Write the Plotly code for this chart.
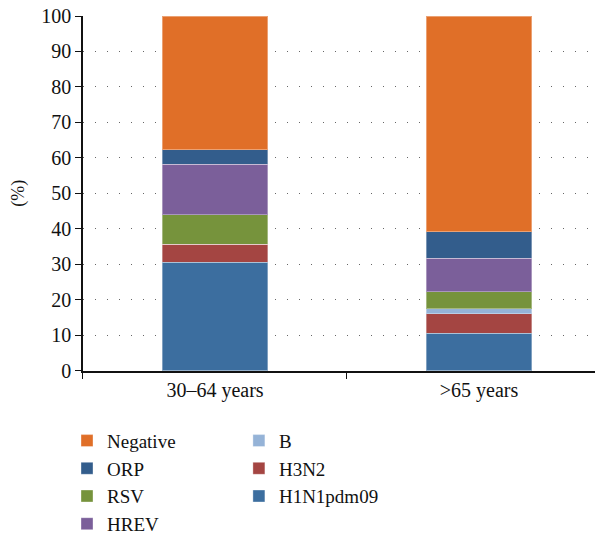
import plotly.graph_objects as go

age_groups = ["30–64 years", ">65 years"]

h1n1 = [30.5, 10.6]
h3n2 = [5.2, 5.5]
flu_b = [0.0, 1.3]
rsv = [8.2, 4.8]
hrev = [14.3, 9.5]
orp = [4.1, 7.5]
negative = [37.7, 60.8]

# bottom-up stack order; (name, values, colour, legend, rank)
series = [
    ("H1N1pdm09", h1n1, "#3C6E9F", "legend2", 7),
    ("H3N2", h3n2, "#A44542", "legend2", 6),
    ("B", flu_b, "#95B3D7", "legend2", 5),
    ("RSV", rsv, "#76933C", "legend", 3),
    ("HREV", hrev, "#7B5F9A", "legend", 4),
    ("ORP", orp, "#335D8C", "legend", 2),
    ("Negative", negative, "#E06F28", "legend", 1),
]

fig = go.Figure()
for name, vals, color, leg, rank in series:
    fig.add_trace(go.Bar(
        x=age_groups, y=vals, name=name,
        marker=dict(color=color, line=dict(color="rgba(255,255,255,0.35)", width=1)),
        legend=leg, legendrank=rank))

font = "Liberation Serif, Times New Roman, serif"
# page body adds an 8px offset; axes domains leave room for the two legends
leg_style = dict(xanchor="left", yanchor="top", y=0.2106, font=dict(size=19),
                 tracegroupgap=0, itemwidth=30, traceorder="normal")
fig.update_layout(
    barmode="stack",
    bargap=0.6,
    width=603, height=535,
    margin=dict(l=59, r=0, t=8, b=8),
    plot_bgcolor="white", paper_bgcolor="white",
    font=dict(family=font, size=20, color="#111"),
    legend=dict(x=0.0, **leg_style),
    legend2=dict(x=0.316, **leg_style),
)
fig.update_yaxes(
    domain=[0.310, 1], automargin=False, ticklabeloverflow="allow",
    range=[0, 100], dtick=10, ticks="outside", ticklen=6, tickcolor="#111",
    showline=True, linecolor="#111", linewidth=1.5,
    showgrid=True, gridcolor="#666", gridwidth=1, griddash="1px 11px",
    zeroline=False, title=dict(text="(%)", standoff=16, font=dict(size=18)),
    tickfont=dict(size=20))
fig.update_xaxes(
    domain=[0.0294, 1], automargin=False,
    ticks="outside", tickson="boundaries", ticklen=6, tickcolor="#111",
    showline=True, linecolor="#111", linewidth=2,
    tickfont=dict(size=20))

fig.write_html("out.html")
